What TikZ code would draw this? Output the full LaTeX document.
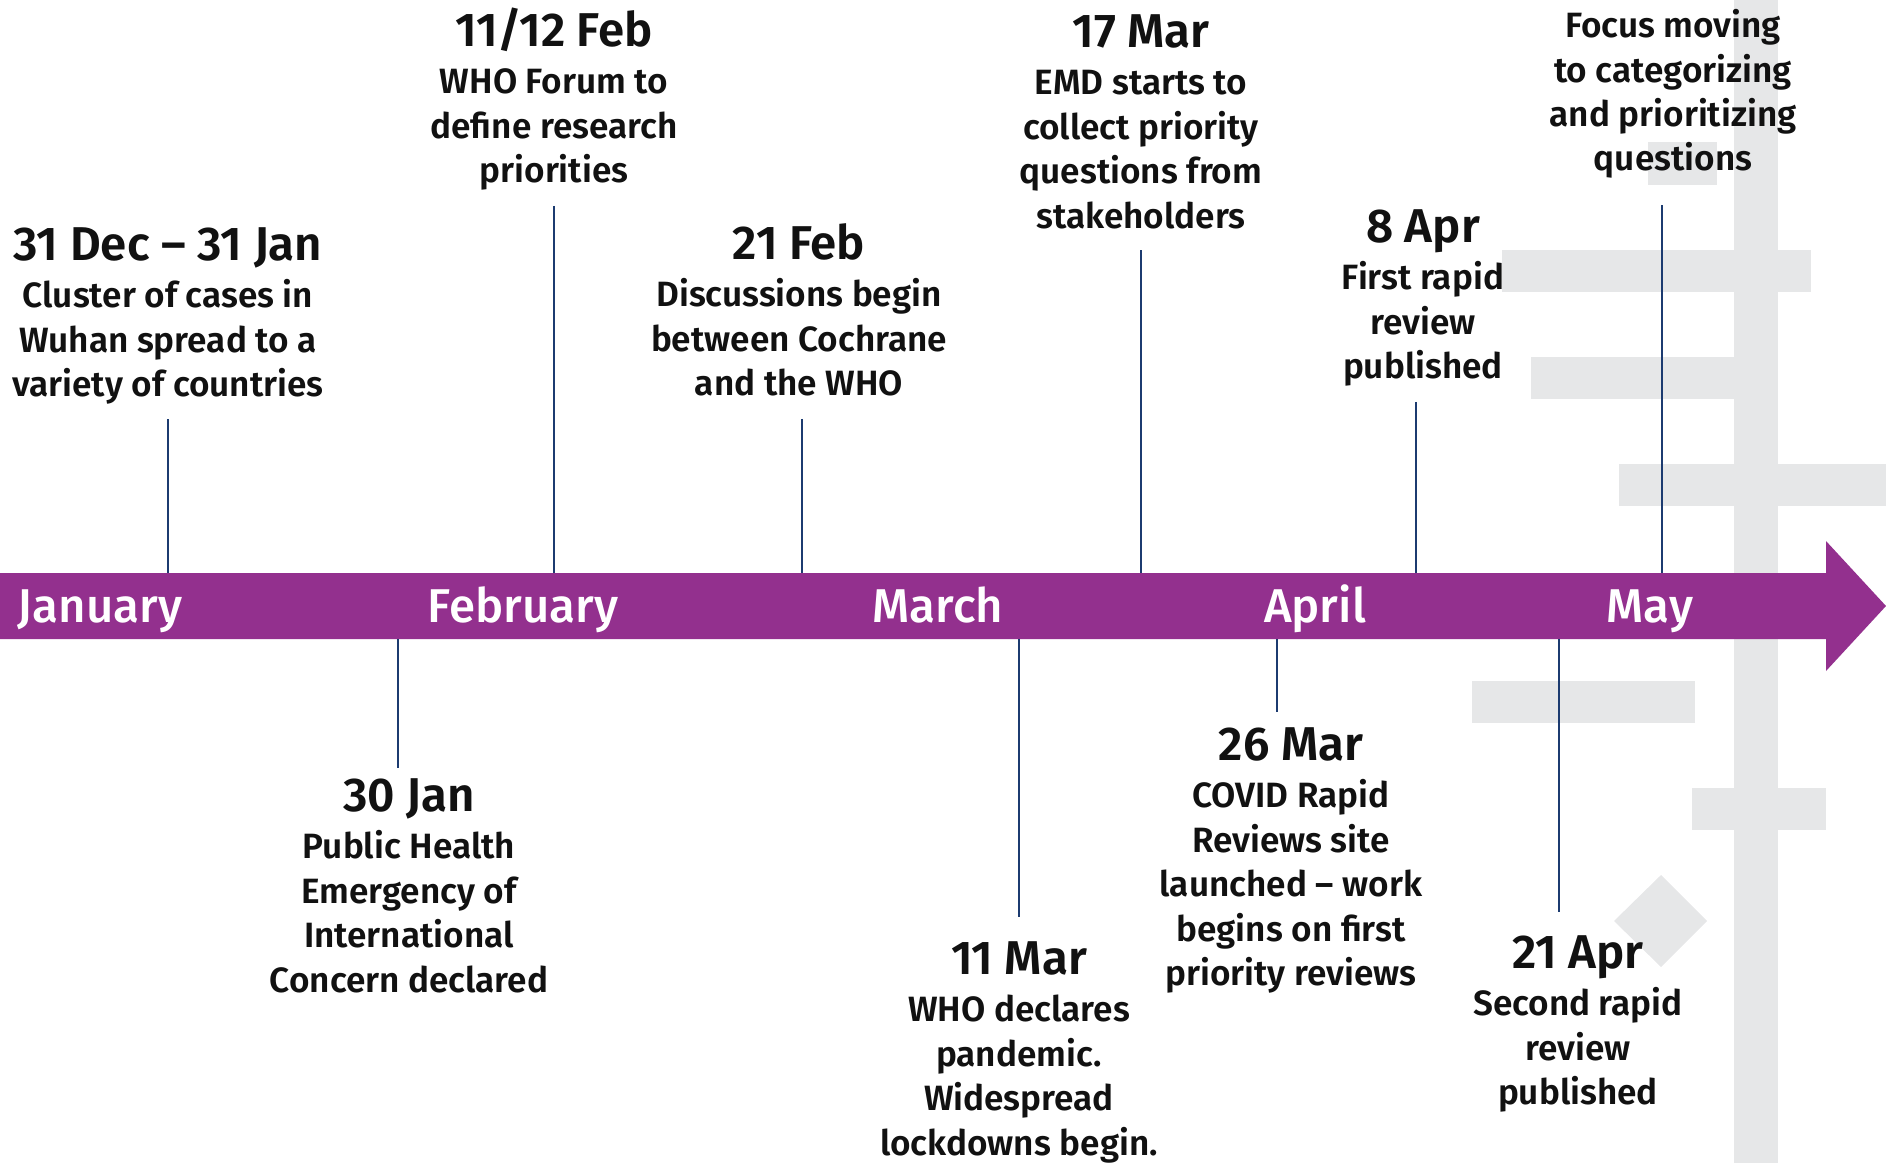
\documentclass[tikz,border=0pt]{standalone}
\usepackage{fontspec}
\setmainfont{Fira Sans}[BoldFont={Fira Sans SemiBold}]
\newfontfamily\monthfont{Fira Sans Medium}
\usetikzlibrary{positioning}

\definecolor{bandpurple}{HTML}{93308E}
\definecolor{decogray}{HTML}{E6E7E8}
\definecolor{linkblue}{HTML}{1C3B70}
\definecolor{txt}{HTML}{111111}

% date line on top of an event text
\newcommand{\evdate}[1]{\rule{0pt}{22pt}{\fontsize{27}{30}\selectfont #1}\\[2pt]}

\tikzset{
  event/.style={align=center, inner sep=0pt, anchor=north, text=txt,
    font=\fontsize{20}{25.3}\selectfont\bfseries},
  month/.style={inner sep=0pt, anchor=base, text=white,
    font=\fontsize{27}{30}\selectfont\monthfont},
  link/.style={linkblue, line width=0.8pt},
  deco/.style={fill=decogray},
}

\begin{document}
\begin{tikzpicture}[x=0.02cm, y=-0.02cm]
\useasboundingbox (0,0) rectangle (1886,1163);

% grey background shapes
\fill[deco] (1734,0) rectangle (1778,1163);
\fill[deco] (1648,142) rectangle (1717,185);
\fill[deco] (1502,250) rectangle (1811,292);
\fill[deco] (1531,357) rectangle (1734,399);
\fill[deco] (1619,464) rectangle (1886,506);
\fill[deco] (1472,681) rectangle (1695,723);
\fill[deco] (1692,788) rectangle (1826,830);
\fill[deco] (1661,875) -- (1707,921) -- (1661,967) -- (1614,921) -- cycle;

% time arrow
\fill[bandpurple] (0,573) -- (1826,573) -- (1826,541) -- (1886,606)
  -- (1826,671) -- (1826,639) -- (0,639) -- cycle;

\node[month] (jan) at (100,622) {January};
\node[month] (feb) at (523,622) {February};
\node[month] (mar) at (938,622) {March};
\node[month] (apr) at (1315,622) {April};
\node[month] (may) at (1650,622) {May};

% ticks on the arrow
\coordinate (t1) at (168,573);
\coordinate (t2) at (554,573);
\coordinate (t3) at (802,573);
\coordinate (t4) at (1141,573);
\coordinate (t5) at (1416,573);
\coordinate (t6) at (1662,573);
\coordinate (b1) at (398,639);
\coordinate (b2) at (1019,639);
\coordinate (b3) at (1277,639);
\coordinate (b4) at (1559,639);

% events above
\node[event] (cluster) at (168,221) {\evdate{31 Dec – 31 Jan}Cluster of cases in\\Wuhan spread to a\\variety of countries};
\node[event] (forum) at (554,7) {\evdate{11/12 Feb}WHO Forum to\\define research\\priorities};
\node[event] (talks) at (799,220) {\evdate{21 Feb}Discussions begin\\between Cochrane\\and the WHO};
\node[event] (emd) at (1141,8) {\evdate{17 Mar}EMD starts to\\collect priority\\questions from\\stakeholders};
\node[event] (first) at (1423,203) {\evdate{8 Apr}First rapid\\review\\published};
\node[event] (focus) at (1673,9) {\rule{0pt}{14pt}Focus moving\\to categorizing\\and prioritizing\\questions};

% events below
\node[event] (phe) at (409,772) {\evdate{30 Jan}Public Health\\Emergency of\\International\\Concern declared};
\node[event] (pandemic) at (1019,935) {\evdate{11 Mar}WHO declares\\pandemic.\\Widespread\\lockdowns begin.};
\node[event] (site) at (1291,721) {\evdate{26 Mar}COVID Rapid\\Reviews site\\launched – work\\begins on first\\priority reviews};
\node[event] (second) at (1578,929) {\evdate{21 Apr}Second rapid\\review\\published};

% connectors
\draw[link, shorten <=8pt] (cluster.south -| t1) -- (t1);
\draw[link, shorten <=8.5pt] (forum.south -| t2) -- (t2);
\draw[link, shorten <=12.5pt] (talks.south -| t3) -- (t3);
\draw[link, shorten <=12pt] (emd.south -| t4) -- (t4);
\draw[link, shorten <=8.5pt] (first.south -| t5) -- (t5);
\draw[link, shorten <=15pt] (focus.south -| t6) -- (t6);
\draw[link, shorten >=2.5pt] (b1) -- (phe.north -| b1);
\draw[link, shorten >=10.5pt] (b2) -- (pandemic.north -| b2);
\draw[link, shorten >=5.2pt] (b3) -- (site.north -| b3);
\draw[link, shorten >=9.5pt] (b4) -- (second.north -| b4);

\end{tikzpicture}
\end{document}
